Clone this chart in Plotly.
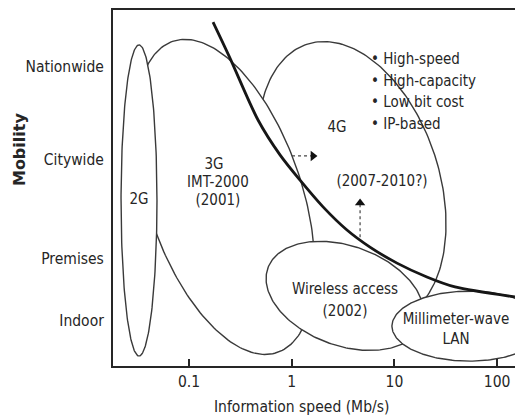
import numpy as np
import plotly.graph_objects as go

# ---------------- data ----------------
speed_ticks = [0.1, 1, 10, 100]
speed_labels = ["0.1", "1", "10", "100"]
mobility_labels = ["Indoor", "Premises", "Citywide", "Nationwide"]
mobility_levels = [12.9, 30.3, 57.9, 84.0]

# regions drawn as ellipses (bottom layer first)
region_names = ["4G", "3G", "2G", "Wireless access", "Millimeter-wave LAN"]
region_speed = [3.86, 0.2244, 0.0326, 3.30, 53.2]          # centre, Mb/s
region_mobility = [51.7, 47.5, 46.5, 19.7, 11.2]           # centre, mobility units
region_half_width = [0.847, 0.750, 0.175, 0.798, 0.750]    # decades
region_half_height = [40.7, 46.1, 43.7, 14.0, 9.83]        # mobility units
region_tilt = [18, 18.5, 0, -20, 0]                        # degrees

# speed/mobility trade-off curve
trend_speed = [0.1714, 0.2506, 0.470, 0.769, 1.205, 2.018, 3.45, 5.78, 10.6, 20.7, 38.9, 149]
trend_mobility = [96.6, 86.5, 69.1, 59.3, 52.2, 44.7, 38.2, 33.4, 28.9, 25.0, 22.2, 19.4]

label_text = ["2G", "3G", "IMT-2000", "(2001)", "4G", "(2007-2010?)",
              "Wireless access", "(2002)", "Millimeter-wave", "LAN"]
label_speed = [0.0326, 0.175, 0.1914, 0.1914, 2.76, 7.57, 3.30, 3.30, 39.8, 39.8]
label_mobility = [46.6, 56.5, 51.4, 46.3, 66.9, 51.7, 21.3, 15.2, 12.9, 7.3]

feature_text = ["High-speed", "High-capacity", "Low bit cost", "IP-based"]
feature_speed = [5.91, 5.91, 5.91, 5.91]
feature_mobility = [86.0, 79.8, 73.9, 67.7]

arrow_right_speed = [1.007, 1.61]
arrow_right_mobility = [59.0, 59.0]
arrow_up_speed = [4.63, 4.63]
arrow_up_mobility = [36.2, 45.8]

# ---------------- layout geometry ----------------
W, H = 515, 417
M_L, M_R, M_T, M_B = 113, 0, 10, 51
X_RANGE = [-1.74, 2.174]
Y_RANGE = [0, 100]
plot_w = W - M_L - M_R
plot_h = H - M_T - M_B
# mobility units that look as long as one decade on screen
K = (plot_w / (X_RANGE[1] - X_RANGE[0])) / (plot_h / (Y_RANGE[1] - Y_RANGE[0]))

INK = "#262626"
FONT = "DejaVu Sans Condensed, DejaVu Sans, sans-serif"


def ellipse(cs, cm, hw, hh, tilt, n=240):
    t = np.linspace(0, 2 * np.pi, n)
    u = hw * K * np.cos(t)
    v = hh * np.sin(t)
    a = np.deg2rad(tilt)
    xr = u * np.cos(a) - v * np.sin(a)
    yr = u * np.sin(a) + v * np.cos(a)
    return 10 ** (np.log10(cs) + xr / K), cm + yr


fig = go.Figure()

for i, name in enumerate(region_names):
    ex, ey = ellipse(region_speed[i], region_mobility[i], region_half_width[i],
                     region_half_height[i], region_tilt[i])
    fig.add_trace(go.Scatter(x=ex, y=ey, mode="lines", fill="toself",
                             fillcolor="white", line=dict(color="#3a3a3a", width=1.4),
                             hoverinfo="skip", showlegend=False, name=name))

fig.add_trace(go.Scatter(x=trend_speed, y=trend_mobility, mode="lines",
                         line=dict(color="#161616", width=2.8, shape="spline", smoothing=0.8),
                         hoverinfo="skip", showlegend=False))

# dotted arrows
fig.add_trace(go.Scatter(x=arrow_right_speed, y=arrow_right_mobility, mode="lines",
                         line=dict(color="#444", width=1.2, dash="dot"),
                         hoverinfo="skip", showlegend=False))
fig.add_trace(go.Scatter(x=arrow_right_speed[1:], y=arrow_right_mobility[1:], mode="markers",
                         marker=dict(symbol="triangle-right", size=9, color="#111"),
                         hoverinfo="skip", showlegend=False))
fig.add_trace(go.Scatter(x=arrow_up_speed, y=arrow_up_mobility, mode="lines",
                         line=dict(color="#444", width=1.2, dash="dot"),
                         hoverinfo="skip", showlegend=False))
fig.add_trace(go.Scatter(x=arrow_up_speed[1:], y=arrow_up_mobility[1:], mode="markers",
                         marker=dict(symbol="triangle-up", size=9, color="#111"),
                         hoverinfo="skip", showlegend=False))

fig.add_trace(go.Scatter(x=label_speed, y=label_mobility, mode="text", text=label_text,
                         textposition="middle center",
                         textfont=dict(family=FONT, size=15, color=INK),
                         hoverinfo="skip", showlegend=False))
fig.add_trace(go.Scatter(x=feature_speed, y=feature_mobility, mode="text",
                         text=["\u2022 " + s for s in feature_text],
                         textposition="middle right",
                         textfont=dict(family=FONT, size=15, color=INK),
                         hoverinfo="skip", showlegend=False))

fig.update_layout(
    width=W, height=H,
    margin=dict(l=M_L, r=M_R, t=M_T, b=M_B, pad=0),
    paper_bgcolor="white", plot_bgcolor="white",
    font=dict(family=FONT, size=15, color=INK),
    xaxis=dict(type="log", range=X_RANGE, tickvals=speed_ticks, ticktext=speed_labels,
               ticks="inside", ticklen=7, tickwidth=1.5, tickcolor=INK,
               showgrid=False, zeroline=False, showline=True, linewidth=2,
               linecolor=INK, mirror=True, tickfont=dict(family=FONT, size=15.5, color=INK)),
    yaxis=dict(range=Y_RANGE, tickvals=mobility_levels, ticktext=mobility_labels,
               ticks="", showgrid=False, zeroline=False, showline=True, linewidth=2,
               linecolor=INK, ticklabelstandoff=4,
               tickfont=dict(family=FONT, size=15.5, color=INK)),
    annotations=[
        dict(text="Information speed (Mb/s)", xref="paper", yref="paper",
             x=0.469, y=-0.115, xanchor="center", yanchor="middle", showarrow=False,
             font=dict(family=FONT, size=15.5, color=INK)),
        dict(text="<b>Mobility</b>", xref="paper", yref="paper", textangle=-90,
             x=-0.231, y=0.607, xanchor="center", yanchor="middle", showarrow=False,
             font=dict(family="DejaVu Sans, sans-serif", size=16, color=INK)),
    ],
)

fig.write_html(
    "out.html",
    config={"displayModeBar": False},
    post_script="document.body.style.margin='0';document.body.style.padding='0';"
                "document.body.style.overflow='hidden';",
)
